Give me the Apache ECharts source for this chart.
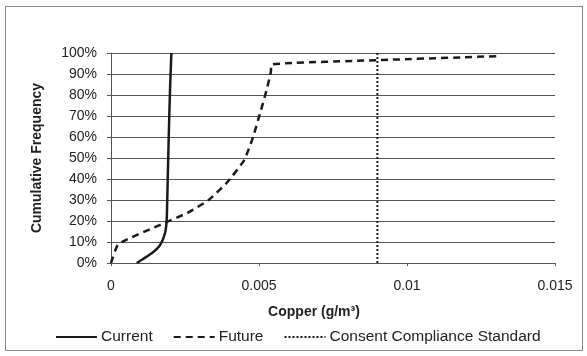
<!DOCTYPE html>
<html>
<head>
<meta charset="utf-8">
<script src="https://cdn.jsdelivr.net/npm/echarts@6/dist/echarts.min.js"></script>
<style>
html,body{margin:0;padding:0;background:#fff;}
#frame{position:absolute;left:5px;top:6px;width:578px;height:345px;border:1px solid #888;box-sizing:border-box;}
#chart{position:absolute;left:0;top:0;width:587px;height:356px;}
</style>
</head>
<body>
<div id="frame"></div>
<div id="chart"></div>
<script>
// Current: [copper g/m3, cumulative %]
const currentX = [0.00087, 0.0012, 0.00145, 0.00163, 0.00173, 0.0018, 0.00185, 0.00188, 0.0019, 0.00195, 0.002, 0.00204];
const currentY = [0, 3, 5.5, 8, 10.5, 13, 16, 20, 30, 60, 85, 100];
// Future
const futureX = [0, 0.00025, 0.0018, 0.0026, 0.0033, 0.0039, 0.0045, 0.0048, 0.00503, 0.00525, 0.0054, 0.00543, 0.009, 0.0131];
const futureY = [0, 9, 19, 24, 30, 38, 49, 60, 71, 82, 91, 94.6, 96.6, 98.5];
// Consent Compliance Standard
const standardX = [0.009, 0.009];
const standardY = [0, 100];

const zip = (xs, ys) => xs.map((x, i) => [x, ys[i]]);
const chart = echarts.init(document.getElementById('chart'), null, {renderer: 'canvas'});
const font = 'Arial, "Liberation Sans", sans-serif';
chart.setOption({
  animation: false,
  backgroundColor: 'transparent',
  grid: {left: 111, right: 32, top: 53, bottom: 93},
  xAxis: {
    type: 'value', min: 0, max: 0.015, interval: 0.005,
    name: 'Copper (g/m³)', nameLocation: 'middle', nameGap: 42,
    nameTextStyle: {fontFamily: font, fontSize: 14, fontWeight: 'bold', color: '#222', padding: [0, 38, 0, 0]},
    axisLine: {show: true, onZero: false, lineStyle: {color: '#555', width: 1}},
    axisTick: {show: true, length: 3, lineStyle: {color: '#555'}},
    axisLabel: {fontFamily: font, fontSize: 14, color: '#222', margin: 16,
      formatter: v => v === 0 ? '0' : String(+v.toFixed(3))},
    splitLine: {show: false}
  },
  yAxis: {
    type: 'value', min: 0, max: 100, interval: 10,
    name: 'Cumulative Frequency', nameLocation: 'middle', nameGap: 67, nameRotate: 90,
    nameTextStyle: {fontFamily: font, fontSize: 14, fontWeight: 'bold', color: '#222'},
    axisLine: {show: true, lineStyle: {color: '#555', width: 1}},
    axisTick: {show: true, length: 4, lineStyle: {color: '#555'}},
    axisLabel: {fontFamily: font, fontSize: 14, color: '#222', margin: 14, formatter: '{value}%'},
    splitLine: {show: true, lineStyle: {color: '#555', width: 1}}
  },
  legend: {
    bottom: 6, left: 50, itemWidth: 41, itemHeight: 10, itemGap: 20,
    itemStyle: {opacity: 0},
    textStyle: {fontFamily: font, fontSize: 15.5, color: '#222', padding: [0, 0, 0, -1]},
    data: ['Current', 'Future', 'Consent Compliance Standard']
  },
  series: [
    {name: 'Current', type: 'line', data: zip(currentX, currentY), symbol: 'none', smooth: 0.3,
     lineStyle: {color: '#1a1a1a', width: 2.5}, itemStyle: {color: '#1a1a1a'}},
    {name: 'Future', type: 'line', data: zip(futureX, futureY), symbol: 'none', smooth: 0.15,
     lineStyle: {color: '#1a1a1a', width: 2.5, type: [7, 5]}, itemStyle: {color: '#1a1a1a'}},
    {name: 'Consent Compliance Standard', type: 'line', data: zip(standardX, standardY), symbol: 'none',
     lineStyle: {color: '#1a1a1a', width: 2, type: [2, 2]}, itemStyle: {color: '#1a1a1a'}}
  ]
});
</script>
</body>
</html>
